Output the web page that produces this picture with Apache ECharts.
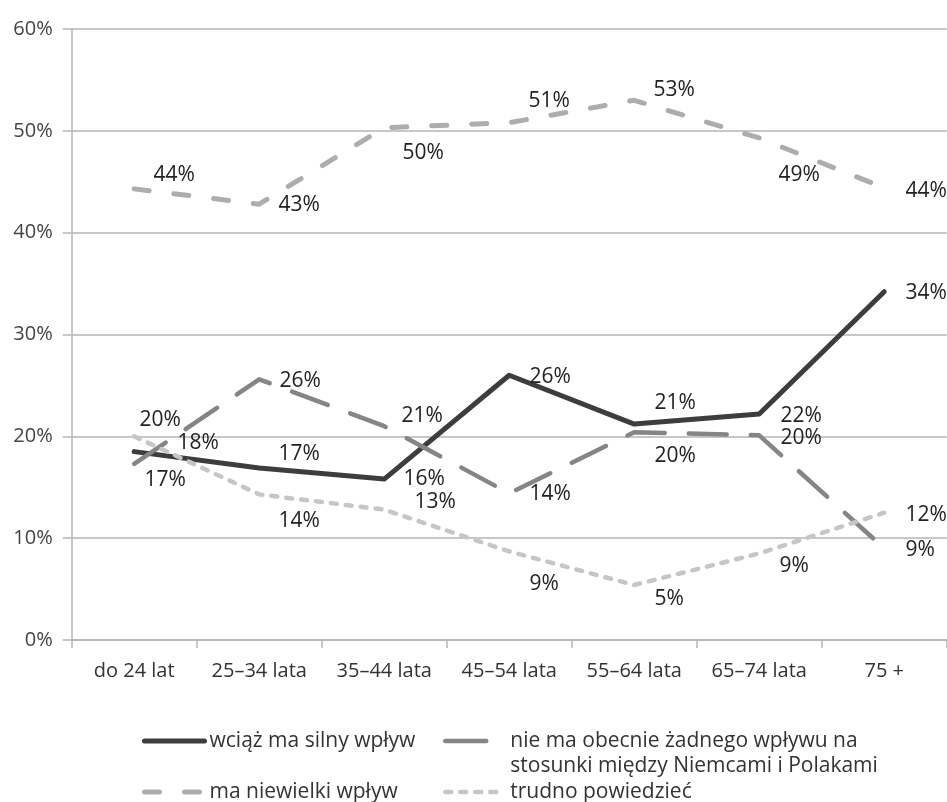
<!DOCTYPE html>
<html><head><meta charset="utf-8">
<script src="https://cdn.jsdelivr.net/npm/echarts@6/dist/echarts.min.js"></script>
<style>html,body{margin:0;padding:0;background:#fff}#c{width:947px;height:802px}</style>
</head><body><div id="c"></div>
<script>
// ---- data ----
const categories = ['do 24 lat', '25–34 lata', '35–44 lata', '45–54 lata', '55–64 lata', '65–74 lata', '75 +'];
const seriesNames = ['wciąż ma silny wpływ', 'nie ma obecnie żadnego wpływu na stosunki między Niemcami i Polakami', 'ma niewielki wpływ', 'trudno powiedzieć'];
const strongValues = [18.5, 16.9, 15.8, 26.0, 21.2, 22.2, 34.2];
const strongLabels = ['18%', '17%', '16%', '26%', '21%', '22%', '34%'];
const noneValues = [17.3, 25.6, 21.0, 14.4, 20.4, 20.1, 9.0];
const noneLabels = ['17%', '26%', '21%', '14%', '20%', '20%', '9%'];
const smallValues = [44.3, 42.8, 50.3, 50.8, 53.0, 49.3, 44.4];
const smallLabels = ['44%', '43%', '50%', '51%', '53%', '49%', '44%'];
const hardValues = [20.0, 14.3, 12.8, 8.7, 5.4, 8.5, 12.5];
const hardLabels = ['20%', '14%', '13%', '9%', '5%', '9%', '12%'];

// ---- styling (label placement offsets, px) ----
const strongOffsets = [[64, -9], [40, -14], [40, 0], [41, 2], [41, -21], [42, 2], [42, 1]];
const noneOffsets = [[31, 16], [41, 2], [38, -10], [41, 1], [41, 24], [42, 3], [36, 2]];
const smallOffsets = [[40, -14], [40, 1], [39, 25], [40, -22], [40, -10], [40, 37], [42, 3]];
const hardOffsets = [[26, -16], [40, 27], [51, -8], [35, 33], [35, 14], [35, 13], [42, 2]];

const FONT = 'Open Sans';
const labelStyle = { show: true, position: 'inside', color: '#222', fontSize: 21, fontFamily: FONT };

function build(values, labels, offsets) {
  return values.map((v, i) => ({
    value: v,
    label: Object.assign({}, labelStyle, { formatter: labels[i], offset: offsets[i] })
  }));
}

function lineSeries(name, values, labels, offsets, color, width, dash) {
  return {
    name: name,
    type: 'line',
    data: build(values, labels, offsets),
    symbol: 'circle',
    symbolSize: 1,
    itemStyle: { color: 'rgba(0,0,0,0)' },
    lineStyle: { color: color, width: width, type: dash, cap: 'round', join: 'round' },
    label: labelStyle,
    emphasis: { disabled: true },
    z: 3
  };
}

const chart = echarts.init(document.getElementById('c'));
const LH = 25;
const legendText = { fontSize: 21, color: '#333', fontFamily: FONT, lineHeight: LH };
const row1 = 741, row2 = 792;
function legend(idx, left, centerY, lineStyle, extra) {
  return Object.assign({
    data: [seriesNames[idx]], left: left, top: centerY - LH / 2, padding: 0,
    itemWidth: 60, itemHeight: LH, itemGap: 0, selectedMode: false,
    textStyle: legendText,
    lineStyle: Object.assign({ cap: 'round' }, lineStyle)
  }, extra || {});
}

chart.setOption({
  animation: false,
  backgroundColor: '#fff',
  grid: { left: 71.7, right: 0.3, top: 29, bottom: 162, containLabel: false },
  xAxis: {
    type: 'category',
    data: categories,
    boundaryGap: true,
    axisLine: { show: true, lineStyle: { color: '#b5b5b5', width: 1.5 } },
    axisTick: { show: true, length: 8, lineStyle: { color: '#b5b5b5', width: 1.5 } },
    axisLabel: { color: '#333', fontSize: 20, fontFamily: FONT, margin: 21 },
    splitLine: { show: false }
  },
  yAxis: {
    type: 'value',
    min: 0, max: 60, interval: 10,
    axisLine: { show: true, lineStyle: { color: '#b5b5b5', width: 1.5 } },
    axisTick: { show: true, length: 9, lineStyle: { color: '#b5b5b5', width: 1.5 } },
    axisLabel: { formatter: '{value}%', color: '#444', fontSize: 20, fontFamily: FONT, margin: 19 },
    splitLine: { show: true, lineStyle: { color: '#b5b5b5', width: 1.5 } }
  },
  legend: [
    legend(0, 142, row1, { width: 5 }),
    legend(1, 443, row1, { width: 4.5, type: [41, 60] }, {
      top: row1 - 1.5 * LH,
      formatter: () => '\nnie ma obecnie żadnego wpływu na\nstosunki między Niemcami i Polakami'
    }),
    legend(2, 142, row2, { width: 5 }),
    legend(3, 443, row2, { width: 4.5 })
  ],
  series: [
    lineSeries(seriesNames[0], strongValues, strongLabels, strongOffsets, '#3d3d3d', 5, 'solid'),
    lineSeries(seriesNames[1], noneValues, noneLabels, noneOffsets, '#858585', 4.5, [38, 24]),
    lineSeries(seriesNames[2], smallValues, smallLabels, smallOffsets, '#adadad', 5, [15, 25]),
    lineSeries(seriesNames[3], hardValues, hardLabels, hardOffsets, '#c6c6c8', 4.5, [6, 9])
  ]
});
</script>
</body></html>
